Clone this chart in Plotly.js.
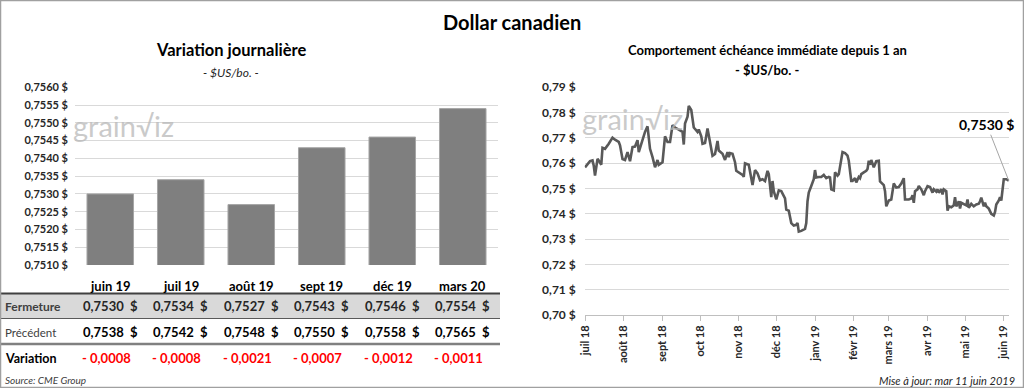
<!DOCTYPE html>
<html>
<head>
<meta charset="utf-8">
<script src="https://cdn.plot.ly/plotly-3.0.1.min.js"></script>
<style>html,body{margin:0;padding:0;background:#fff;}#chart{width:1024px;height:388px;}</style>
</head>
<body>
<div id="chart"></div>
<script>
// ---- Left panel: daily variation per contract ----
const categories = ['juin 19', 'juil 19', 'août 19', 'sept 19', 'déc 19', 'mars 20'];
const fermeture = [0.7530, 0.7534, 0.7527, 0.7543, 0.7546, 0.7554];
const precedent = [0.7538, 0.7542, 0.7548, 0.7550, 0.7558, 0.7565];
const variation = [-0.0008, -0.0008, -0.0021, -0.0007, -0.0012, -0.0011];

// ---- Right panel: nearby contract over one year ----
const dates = [
'2018-07-01','2018-07-03','2018-07-05','2018-07-07','2018-07-08','2018-07-09','2018-07-11','2018-07-12','2018-07-14','2018-07-15',
'2018-07-17','2018-07-20','2018-07-23','2018-07-25','2018-07-28','2018-07-29','2018-07-31','2018-08-02','2018-08-04','2018-08-06',
'2018-08-08','2018-08-10','2018-08-12','2018-08-13','2018-08-16','2018-08-18','2018-08-20','2018-08-22','2018-08-24','2018-08-26',
'2018-08-28','2018-08-29','2018-09-01','2018-09-02','2018-09-03','2018-09-05','2018-09-07','2018-09-09','2018-09-11','2018-09-14',
'2018-09-17','2018-09-18','2018-09-19','2018-09-21','2018-09-22','2018-09-24','2018-09-26','2018-09-28','2018-09-29','2018-09-30',
'2018-10-02','2018-10-03','2018-10-05','2018-10-07','2018-10-09','2018-10-11','2018-10-13','2018-10-15','2018-10-16','2018-10-19',
'2018-10-21','2018-10-23','2018-10-24','2018-10-25','2018-10-27','2018-10-29','2018-10-30','2018-11-01','2018-11-04','2018-11-05',
'2018-11-06','2018-11-09','2018-11-10','2018-11-12','2018-11-14','2018-11-16','2018-11-18','2018-11-20','2018-11-22','2018-11-24',
'2018-11-25','2018-11-27','2018-11-28','2018-11-29','2018-12-01','2018-12-03','2018-12-05','2018-12-07','2018-12-08','2018-12-09',
'2018-12-11','2018-12-13','2018-12-15','2018-12-17','2018-12-18','2018-12-19','2018-12-21','2018-12-24','2018-12-25','2018-12-26',
'2018-12-27','2018-12-29','2018-12-31','2019-01-01','2019-01-02','2019-01-04','2019-01-06','2019-01-08','2019-01-10','2019-01-12',
'2019-01-13','2019-01-14','2019-01-16','2019-01-17','2019-01-19','2019-01-20','2019-01-22','2019-01-23','2019-01-25','2019-01-27',
'2019-01-28','2019-01-30','2019-01-31','2019-02-02','2019-02-03','2019-02-05','2019-02-06','2019-02-07','2019-02-09','2019-02-11',
'2019-02-12','2019-02-13','2019-02-14','2019-02-15','2019-02-17','2019-02-19','2019-02-21','2019-02-22','2019-02-25','2019-02-26',
'2019-02-27','2019-03-01','2019-03-03','2019-03-04','2019-03-05','2019-03-07','2019-03-09','2019-03-11','2019-03-13','2019-03-14',
'2019-03-17','2019-03-19','2019-03-20','2019-03-21','2019-03-22','2019-03-24','2019-03-25','2019-03-27','2019-03-29','2019-03-30',
'2019-04-01','2019-04-03','2019-04-04','2019-04-05','2019-04-06','2019-04-08','2019-04-09','2019-04-10','2019-04-12','2019-04-13',
'2019-04-14','2019-04-16','2019-04-17','2019-04-18','2019-04-20','2019-04-22','2019-04-23','2019-04-24','2019-04-26','2019-04-27',
'2019-04-28','2019-04-30','2019-05-02','2019-05-03','2019-05-04','2019-05-06','2019-05-08','2019-05-10','2019-05-12','2019-05-13',
'2019-05-14','2019-05-16','2019-05-17','2019-05-18','2019-05-20','2019-05-22','2019-05-24','2019-05-25','2019-05-26','2019-05-28',
'2019-05-29','2019-05-30','2019-05-31','2019-06-01','2019-06-03','2019-06-04','2019-06-05'
];
const prices = [
0.7583,0.7596,0.7607,0.7610,0.7589,0.7550,0.7616,0.7610,0.7593,0.7660,
0.7656,0.7676,0.7700,0.7692,0.7683,0.7670,0.7616,0.7612,0.7643,0.7607,
0.7663,0.7665,0.7690,0.7643,0.7692,0.7723,0.7745,0.7656,0.7623,0.7583,
0.7612,0.7593,0.7603,0.7649,0.7705,0.7683,0.7683,0.7749,0.7740,0.7732,
0.7723,0.7673,0.7756,0.7783,0.7825,0.7809,0.7740,0.7729,0.7723,0.7732,
0.7705,0.7676,0.7679,0.7736,0.7683,0.7629,0.7636,0.7687,0.7649,0.7636,
0.7612,0.7643,0.7623,0.7639,0.7636,0.7603,0.7569,0.7563,0.7553,0.7545,
0.7599,0.7593,0.7569,0.7513,0.7572,0.7559,0.7532,0.7536,0.7529,0.7569,
0.7556,0.7465,0.7529,0.7489,0.7456,0.7492,0.7489,0.7469,0.7460,0.7416,
0.7412,0.7363,0.7353,0.7356,0.7363,0.7329,0.7332,0.7340,0.7363,0.7449,
0.7483,0.7509,0.7536,0.7572,0.7543,0.7545,0.7545,0.7553,0.7540,0.7545,
0.7543,0.7496,0.7492,0.7563,0.7550,0.7556,0.7616,0.7643,0.7639,0.7629,
0.7609,0.7529,0.7529,0.7540,0.7523,0.7545,0.7540,0.7556,0.7563,0.7569,
0.7576,0.7609,0.7593,0.7612,0.7583,0.7607,0.7609,0.7527,0.7513,0.7489,
0.7429,0.7452,0.7456,0.7489,0.7519,0.7503,0.7505,0.7519,0.7540,0.7456,
0.7456,0.7460,0.7473,0.7443,0.7489,0.7496,0.7509,0.7496,0.7473,0.7489,
0.7509,0.7505,0.7496,0.7483,0.7496,0.7487,0.7496,0.7483,0.7496,0.7476,
0.7496,0.7489,0.7412,0.7429,0.7425,0.7433,0.7465,0.7429,0.7449,0.7420,
0.7443,0.7439,0.7433,0.7456,0.7423,0.7439,0.7429,0.7436,0.7439,0.7449,
0.7463,0.7429,0.7443,0.7429,0.7420,0.7399,0.7393,0.7407,0.7436,0.7452,
0.7465,0.7452,0.7503,0.7536,0.7536,0.7532,0.7530
];
const monthTicks = ['2018-07-01','2018-08-01','2018-09-01','2018-10-01','2018-11-01','2018-12-01',
                    '2019-01-01','2019-02-01','2019-03-01','2019-04-01','2019-05-01','2019-06-01'];
const monthLabels = ['juil 18','août 18','sept 18','oct 18','nov 18','déc 18',
                     'janv 19','févr 19','mars 19','avr 19','mai 19','juin 19'];

const FONT = 'Lato, "Open Sans", sans-serif';
const W = 1024, H = 388;
const px = v => v / W;
const py = v => 1 - v / H;
const fmt4 = v => v.toFixed(4).replace('.', ',');
const NB = '\u00a0';

const traces = [
  {
    type: 'bar', x: categories, y: fermeture, xaxis: 'x', yaxis: 'y',
    marker: {color: '#7f7f7f', line: {color: '#a6a6a6', width: 1}},
    hoverinfo: 'skip'
  },
  {
    type: 'scatter', mode: 'lines', x: dates, y: prices, xaxis: 'x2', yaxis: 'y2',
    line: {color: '#595959', width: 2.6}, hoverinfo: 'skip'
  }
];

const annotations = [];
const T = (text, x, y, opts) => annotations.push(Object.assign({
  text: text, x: x, y: y, xref: 'paper', yref: 'paper', showarrow: false,
  xanchor: 'center', yanchor: 'middle', font: {family: FONT, size: 12, color: '#000'}
}, opts || {}));

// titles
T('Dollar canadien', 0.5, py(22), {font: {family: FONT, size: 20, color: '#000', weight: 'bold'}});
T('Variation journalière', px(231), py(50), {font: {family: FONT, size: 16.5, color: '#000', weight: 'bold'}});
T('<i>- $US/bo. -</i>', px(231), py(72), {font: {family: FONT, size: 12, color: '#262626'}});
T('Comportement échéance immédiate depuis 1 an', px(767), py(50), {font: {family: FONT, size: 13, color: '#000', weight: 'bold'}});
T('- $US/bo. -', px(767), py(70), {font: {family: FONT, size: 13, color: '#000', weight: 'bold'}});

// watermarks
T('grain√iz', px(123), py(126), {font: {family: FONT, size: 29, color: 'rgba(185,185,185,0.75)'}});
T('grain√iz', px(632), py(118), {font: {family: FONT, size: 29, color: 'rgba(185,185,185,0.75)'}});

// table: header, rows
categories.forEach((c, i) => {
  annotations.push({text: c, x: c, y: py(286), xref: 'x', yref: 'paper', showarrow: false,
    xanchor: 'center', yanchor: 'middle', font: {family: FONT, size: 13, color: '#000', weight: 'bold'}});
  annotations.push({text: fmt4(fermeture[i]) + NB + NB + '$', x: c, y: py(306), xref: 'x', yref: 'paper', showarrow: false,
    xanchor: 'center', yanchor: 'middle', font: {family: FONT, size: 13, color: '#262626', weight: 'bold'}});
  annotations.push({text: fmt4(precedent[i]) + NB + NB + '$', x: c, y: py(332), xref: 'x', yref: 'paper', showarrow: false,
    xanchor: 'center', yanchor: 'middle', font: {family: FONT, size: 13, color: '#000', weight: 'bold'}});
  const v = variation[i];
  annotations.push({text: (v < 0 ? '- ' : '+ ') + fmt4(Math.abs(v)), x: c, y: py(358), xref: 'x', yref: 'paper', showarrow: false,
    xanchor: 'center', yanchor: 'middle', xshift: -4, font: {family: FONT, size: 13, color: '#ff0000', weight: 'bold'}});
});
T('Fermeture', px(3), py(306), {xanchor: 'left', font: {family: FONT, size: 12, color: '#404040', weight: 'bold'}});
T('Précédent', px(3), py(332), {xanchor: 'left', font: {family: FONT, size: 11.5, color: '#404040'}});
T('Variation', px(3), py(358), {xanchor: 'left', font: {family: FONT, size: 12.5, color: '#000', weight: 'bold'}});

// footers
T('<i>Source: CME Group</i>', px(3), py(380), {xanchor: 'left', font: {family: FONT, size: 10, color: '#404040'}});
T('<i>Mise à jour: mar 11 juin 2019</i>', px(1017), py(380), {xanchor: 'right', font: {family: FONT, size: 11, color: '#262626'}});

// last value callout
const lastIdx = prices.length - 1;
annotations.push({
  text: fmt4(prices[lastIdx]) + ' $', x: dates[lastIdx], y: prices[lastIdx], xref: 'x2', yref: 'y2',
  showarrow: true, arrowhead: 0, arrowwidth: 1, arrowcolor: '#a6a6a6', ax: -22, ay: -56,
  font: {family: FONT, size: 14, color: '#000', weight: 'bold'}
});

const shapes = [
  {type: 'rect', xref: 'paper', yref: 'paper', x0: 0, x1: px(500), y0: py(318.5), y1: py(293.5),
   fillcolor: '#d9d9d9', line: {width: 0}, layer: 'below'},
  {type: 'line', xref: 'paper', yref: 'paper', x0: 0, x1: px(500), y0: py(293.5), y1: py(293.5), line: {color: '#404040', width: 2}},
  {type: 'line', xref: 'paper', yref: 'paper', x0: 0, x1: px(500), y0: py(318.5), y1: py(318.5), line: {color: '#595959', width: 1}},
  {type: 'line', xref: 'paper', yref: 'paper', x0: 0, x1: px(500), y0: py(344), y1: py(344), line: {color: '#808080', width: 2.5}},
  {type: 'rect', xref: 'paper', yref: 'paper', x0: px(0.5), x1: px(1023.5), y0: py(387.5), y1: py(0.5),
   line: {color: '#a0a0a0', width: 1.5}, fillcolor: 'rgba(0,0,0,0)'}
];

const layout = {
  width: W, height: H, margin: {l: 0, r: 0, t: 0, b: 0},
  paper_bgcolor: '#fff', plot_bgcolor: 'rgba(0,0,0,0)',
  showlegend: false, separators: ', ', bargap: 0.34,
  font: {family: FONT, color: '#262626'},
  xaxis: {domain: [px(75), px(498)], showticklabels: false, showgrid: false, zeroline: false, showline: false,
          ticks: '', fixedrange: true},
  yaxis: {domain: [py(265), py(87.3)], range: [0.751, 0.756], dtick: 0.0005, tick0: 0.751,
          tickformat: '.4f', ticksuffix: ' $', gridcolor: '#d9d9d9', gridwidth: 1, zeroline: false,
          showline: false, ticks: '', ticklabelstandoff: 6,
          tickfont: {family: FONT, size: 11, color: '#262626', weight: 'bold'}},
  xaxis2: {domain: [px(584.7), px(1009.3)], anchor: 'y2', type: 'date',
           range: ['2018-06-30 18:00', '2019-06-05 10:00'],
           tickmode: 'array', tickvals: monthTicks, ticktext: monthLabels, tickangle: -90,
           showgrid: false, zeroline: false, showline: true, linecolor: '#bfbfbf', linewidth: 1,
           ticks: 'outside', ticklen: 5, tickcolor: '#bfbfbf',
           tickfont: {family: FONT, size: 11, color: '#262626', weight: 'bold'}},
  yaxis2: {domain: [py(315), py(87)], anchor: 'x2', range: [0.70, 0.79], dtick: 0.01, tick0: 0.70,
           tickformat: '.2f', ticksuffix: ' $', gridcolor: '#d9d9d9', gridwidth: 1, zeroline: false,
           showline: false, ticks: '', ticklabelstandoff: 8,
           tickfont: {family: FONT, size: 12, color: '#262626', weight: 'bold'}},
  annotations: annotations,
  shapes: shapes
};

Plotly.newPlot('chart', traces, layout, {staticPlot: true, displayModeBar: false});
</script>
</body>
</html>
